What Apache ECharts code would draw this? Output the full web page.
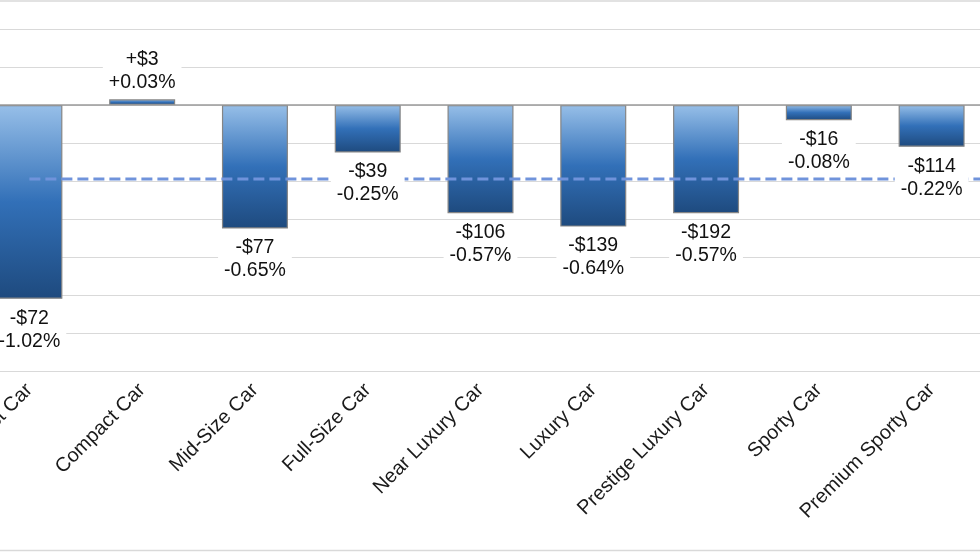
<!DOCTYPE html>
<html>
<head>
<meta charset="utf-8">
<script src="https://cdn.jsdelivr.net/npm/echarts@6/dist/echarts.min.js"></script>
<style>
html,body{margin:0;padding:0;background:#fff;}
#c{width:980px;height:552px;}
</style>
</head>
<body>
<div id="c"></div>
<script>
const categories = ['Subcompact Car','Compact Car','Mid-Size Car','Full-Size Car','Near Luxury Car','Luxury Car','Prestige Luxury Car','Sporty Car','Premium Sporty Car'];
const pctChange = [-1.02, 0.03, -0.65, -0.25, -0.57, -0.64, -0.57, -0.08, -0.22];
const dollarChange = [-72, 3, -77, -39, -106, -139, -192, -16, -114];
const averagePct = -0.39;
const yTicks = { min: -1.4, max: 0.4, interval: 0.2 };

function signed(v, prefix, suffix) {
  const s = v > 0 ? '+' : (v < 0 ? '-' : '');
  return s + prefix + Math.abs(v) + suffix;
}
function fmtPct(v) {
  const s = v > 0 ? '+' : (v < 0 ? '-' : '');
  return s + Math.abs(v).toFixed(2) + '%';
}

const chart = echarts.init(document.getElementById('c'), null, {renderer: 'canvas'});
const font = "'Liberation Sans', Arial, sans-serif";

const barGradient = new echarts.graphic.LinearGradient(0, 0, 0, 1, [
  {offset: 0, color: '#97bfe8'},
  {offset: 0.5, color: '#3270b8'},
  {offset: 1, color: '#1e4a7e'}
]);

const labelData = pctChange.map(function (v) {
  return {value: v, label: {distance: v >= 0 ? 4 : 7}};
});

chart.setOption({
  animation: false,
  backgroundColor: '#fff',
  textStyle: {fontFamily: font},
  grid: {left: -27, right: -8, top: 29, bottom: 181, containLabel: false, outerBoundsMode: 'none'},
  xAxis: [{
    type: 'category',
    data: categories,
    position: 'bottom',
    axisLine: {show: false, onZero: false},
    axisTick: {show: false},
    axisLabel: {rotate: 45, fontSize: 20, color: '#1a1a1a', margin: 16, fontFamily: font, interval: 0}
  }, {
    type: 'value',
    min: -0.5,
    max: categories.length - 0.5,
    show: false
  }],
  yAxis: {
    type: 'value',
    min: yTicks.min,
    max: yTicks.max,
    interval: yTicks.interval,
    axisLabel: {show: false},
    axisLine: {show: false},
    axisTick: {show: false},
    splitLine: {lineStyle: {color: '#d9d9d9', width: 1}}
  },
  graphic: [
    {type: 'line', shape: {x1: 0, y1: 1, x2: 980, y2: 1}, style: {stroke: '#d9d9d9', lineWidth: 1.5}, silent: true},
    {type: 'line', shape: {x1: 0, y1: 550.5, x2: 980, y2: 550.5}, style: {stroke: '#d9d9d9', lineWidth: 1.5}, silent: true}
  ],
  series: [{
    type: 'bar',
    name: 'bars',
    data: pctChange,
    barWidth: 66,
    z: 2,
    itemStyle: {color: barGradient, borderColor: '#858585', borderWidth: 1.2},
    markLine: {
      silent: true,
      symbol: 'none',
      label: {show: false},
      lineStyle: {color: '#9a9a9a', width: 1.5, type: 'solid'},
      data: [{yAxis: 0}]
    }
  }, {
    type: 'line',
    name: 'average',
    xAxisIndex: 1,
    z: 3,
    symbol: 'none',
    lineStyle: {color: '#7093db', width: 3, type: [11, 5]},
    data: [[0, averagePct], [categories.length - 0.5, averagePct]]
  }, {
    type: 'bar',
    name: 'labels',
    data: labelData,
    barWidth: 66,
    barGap: '-100%',
    z: 4,
    itemStyle: {color: 'rgba(0,0,0,0)'},
    label: {
      show: true,
      position: 'outside',
      distance: 7,
      fontSize: 19.5,
      lineHeight: 23,
      color: '#111',
      fontFamily: font,
      backgroundColor: '#fff',
      padding: [1, 6],
      formatter: function (p) {
        return signed(dollarChange[p.dataIndex], '$', '') + '\n' + fmtPct(pctChange[p.dataIndex]);
      }
    }
  }]
});
</script>
</body>
</html>
